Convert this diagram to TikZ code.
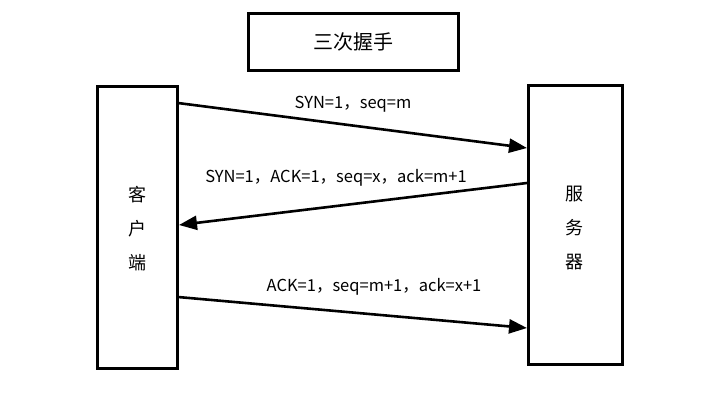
\documentclass[tikz,border=0pt]{standalone}
\usepackage{fontspec}
\setmainfont{Noto Sans CJK SC}
\usetikzlibrary{arrows.meta}
\begin{document}
\begin{tikzpicture}[x=1pt,y=-1pt,
  box/.style={draw=black,line width=3pt,fill=white,inner sep=0pt},
  msg/.style={line width=2.6pt,-{Triangle[length=18pt,width=14pt]}},
  lbl/.style={font=\fontsize{16.5}{18}\selectfont,inner sep=0pt},
  cjk/.style={font=\fontsize{18}{26}\selectfont,align=center,inner sep=0pt}]
\useasboundingbox (0,0) rectangle (720,408);
\fill[white] (0,0) rectangle (720,408);
\node[box,minimum width=210pt,minimum height=57pt] (title) at (353.5,42) {\fontsize{20}{24}\selectfont 三次握手};
\node[box,minimum width=80pt,minimum height=282pt] (client) at (137,227) {};
\node[box,minimum width=94pt,minimum height=279pt] (server) at (575,224.5) {};
\node[cjk] (ctext) at (137,229) {客\\[8pt]户\\[8pt]端};
\node[cjk] (stext) at (574,228) {服\\[8pt]务\\[8pt]器};
\coordinate (a1s) at (178,103);
\coordinate (a1e) at (527,148);
\coordinate (a2s) at (527,183);
\coordinate (a2e) at (179,225);
\coordinate (a3s) at (178,297);
\coordinate (a3e) at (527,328);
\draw[msg] (a1s) -- (a1e);
\draw[msg] (a2s) -- (a2e);
\draw[msg] (a3s) -- (a3e);
\node[lbl] (l1) at (353,104) {SYN=1，seq=m};
\node[lbl] (l2) at (336,178) {SYN=1，ACK=1，seq=x，ack=m+1};
\node[lbl] (l3) at (374,287) {ACK=1，seq=m+1，ack=x+1};
\end{tikzpicture}
\end{document}
